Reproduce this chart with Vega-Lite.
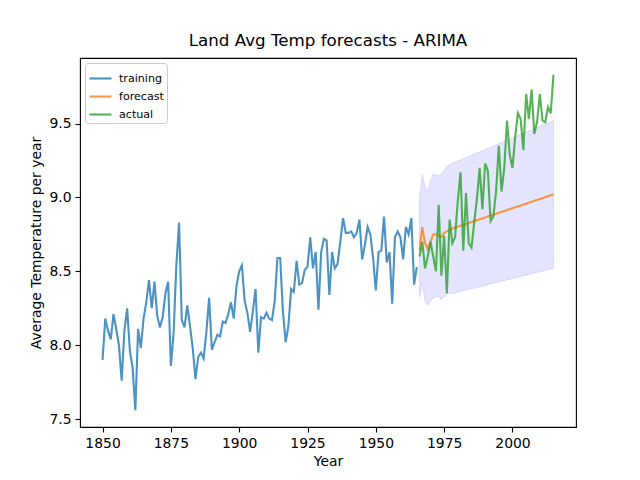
{
  "$schema": "https://vega.github.io/schema/vega-lite/v6.json",
  "width": 496,
  "height": 369,
  "autosize": {"type": "none"},
  "padding": {"left": 80, "top": 58, "right": 64, "bottom": 53},
  "background": "white",
  "config": {
    "font": "DejaVu Sans",
    "view": {"stroke": "black", "strokeWidth": 1.1},
    "axis": {
      "grid": false,
      "domain": false,
      "tickColor": "black",
      "tickSize": 5,
      "tickWidth": 1.1,
      "labelColor": "black",
      "labelFontSize": 13.9,
      "labelFont": "DejaVu Sans",
      "titleFont": "DejaVu Sans",
      "titleFontSize": 13.9,
      "titleFontWeight": "normal",
      "titleColor": "black",
      "labelPadding": 4,
      "titlePadding": 5
    },
    "title": {"fontSize": 16.7, "fontWeight": "normal", "font": "DejaVu Sans", "color": "black", "offset": 8},
    "legend": {
      "orient": "top-left",
      "offset": 5,
      "fillColor": "white",
      "strokeColor": "#cccccc",
      "cornerRadius": 3,
      "padding": 3,
      "labelFont": "DejaVu Sans",
      "labelFontSize": 11.1,
      "labelColor": "black",
      "symbolType": "stroke",
      "symbolSize": 484,
      "symbolStrokeWidth": 2.1,
      "symbolOpacity": 0.8,
      "rowPadding": -7,
      "labelOffset": 6
    }
  },
  "title": {"text": "Land Avg Temp forecasts - ARIMA", "anchor": "middle"},
  "datasets": {
    "lines": [
      {"year": 1850, "series": "training", "value": 7.90},
      {"year": 1851, "series": "training", "value": 8.18},
      {"year": 1852, "series": "training", "value": 8.10},
      {"year": 1853, "series": "training", "value": 8.04},
      {"year": 1854, "series": "training", "value": 8.21},
      {"year": 1855, "series": "training", "value": 8.11},
      {"year": 1856, "series": "training", "value": 8.00},
      {"year": 1857, "series": "training", "value": 7.76},
      {"year": 1858, "series": "training", "value": 8.10},
      {"year": 1859, "series": "training", "value": 8.25},
      {"year": 1860, "series": "training", "value": 7.96},
      {"year": 1861, "series": "training", "value": 7.85},
      {"year": 1862, "series": "training", "value": 7.56},
      {"year": 1863, "series": "training", "value": 8.11},
      {"year": 1864, "series": "training", "value": 7.98},
      {"year": 1865, "series": "training", "value": 8.18},
      {"year": 1866, "series": "training", "value": 8.29},
      {"year": 1867, "series": "training", "value": 8.44},
      {"year": 1868, "series": "training", "value": 8.25},
      {"year": 1869, "series": "training", "value": 8.43},
      {"year": 1870, "series": "training", "value": 8.20},
      {"year": 1871, "series": "training", "value": 8.12},
      {"year": 1872, "series": "training", "value": 8.19},
      {"year": 1873, "series": "training", "value": 8.35},
      {"year": 1874, "series": "training", "value": 8.43},
      {"year": 1875, "series": "training", "value": 7.86},
      {"year": 1876, "series": "training", "value": 8.08},
      {"year": 1877, "series": "training", "value": 8.54},
      {"year": 1878, "series": "training", "value": 8.83},
      {"year": 1879, "series": "training", "value": 8.17},
      {"year": 1880, "series": "training", "value": 8.12},
      {"year": 1881, "series": "training", "value": 8.27},
      {"year": 1882, "series": "training", "value": 8.13},
      {"year": 1883, "series": "training", "value": 7.98},
      {"year": 1884, "series": "training", "value": 7.77},
      {"year": 1885, "series": "training", "value": 7.92},
      {"year": 1886, "series": "training", "value": 7.95},
      {"year": 1887, "series": "training", "value": 7.91},
      {"year": 1888, "series": "training", "value": 8.09},
      {"year": 1889, "series": "training", "value": 8.32},
      {"year": 1890, "series": "training", "value": 7.97},
      {"year": 1891, "series": "training", "value": 8.02},
      {"year": 1892, "series": "training", "value": 8.07},
      {"year": 1893, "series": "training", "value": 8.06},
      {"year": 1894, "series": "training", "value": 8.16},
      {"year": 1895, "series": "training", "value": 8.15},
      {"year": 1896, "series": "training", "value": 8.21},
      {"year": 1897, "series": "training", "value": 8.29},
      {"year": 1898, "series": "training", "value": 8.18},
      {"year": 1899, "series": "training", "value": 8.40},
      {"year": 1900, "series": "training", "value": 8.50},
      {"year": 1901, "series": "training", "value": 8.54},
      {"year": 1902, "series": "training", "value": 8.30},
      {"year": 1903, "series": "training", "value": 8.22},
      {"year": 1904, "series": "training", "value": 8.09},
      {"year": 1905, "series": "training", "value": 8.23},
      {"year": 1906, "series": "training", "value": 8.38},
      {"year": 1907, "series": "training", "value": 7.95},
      {"year": 1908, "series": "training", "value": 8.19},
      {"year": 1909, "series": "training", "value": 8.18},
      {"year": 1910, "series": "training", "value": 8.22},
      {"year": 1911, "series": "training", "value": 8.18},
      {"year": 1912, "series": "training", "value": 8.17},
      {"year": 1913, "series": "training", "value": 8.30},
      {"year": 1914, "series": "training", "value": 8.59},
      {"year": 1915, "series": "training", "value": 8.59},
      {"year": 1916, "series": "training", "value": 8.23},
      {"year": 1917, "series": "training", "value": 8.02},
      {"year": 1918, "series": "training", "value": 8.13},
      {"year": 1919, "series": "training", "value": 8.38},
      {"year": 1920, "series": "training", "value": 8.36},
      {"year": 1921, "series": "training", "value": 8.57},
      {"year": 1922, "series": "training", "value": 8.41},
      {"year": 1923, "series": "training", "value": 8.42},
      {"year": 1924, "series": "training", "value": 8.51},
      {"year": 1925, "series": "training", "value": 8.53},
      {"year": 1926, "series": "training", "value": 8.73},
      {"year": 1927, "series": "training", "value": 8.52},
      {"year": 1928, "series": "training", "value": 8.63},
      {"year": 1929, "series": "training", "value": 8.24},
      {"year": 1930, "series": "training", "value": 8.63},
      {"year": 1931, "series": "training", "value": 8.72},
      {"year": 1932, "series": "training", "value": 8.71},
      {"year": 1933, "series": "training", "value": 8.34},
      {"year": 1934, "series": "training", "value": 8.63},
      {"year": 1935, "series": "training", "value": 8.52},
      {"year": 1936, "series": "training", "value": 8.55},
      {"year": 1937, "series": "training", "value": 8.70},
      {"year": 1938, "series": "training", "value": 8.86},
      {"year": 1939, "series": "training", "value": 8.76},
      {"year": 1940, "series": "training", "value": 8.76},
      {"year": 1941, "series": "training", "value": 8.77},
      {"year": 1942, "series": "training", "value": 8.73},
      {"year": 1943, "series": "training", "value": 8.76},
      {"year": 1944, "series": "training", "value": 8.85},
      {"year": 1945, "series": "training", "value": 8.58},
      {"year": 1946, "series": "training", "value": 8.68},
      {"year": 1947, "series": "training", "value": 8.80},
      {"year": 1948, "series": "training", "value": 8.75},
      {"year": 1949, "series": "training", "value": 8.59},
      {"year": 1950, "series": "training", "value": 8.37},
      {"year": 1951, "series": "training", "value": 8.63},
      {"year": 1952, "series": "training", "value": 8.64},
      {"year": 1953, "series": "training", "value": 8.87},
      {"year": 1954, "series": "training", "value": 8.56},
      {"year": 1955, "series": "training", "value": 8.63},
      {"year": 1956, "series": "training", "value": 8.28},
      {"year": 1957, "series": "training", "value": 8.73},
      {"year": 1958, "series": "training", "value": 8.77},
      {"year": 1959, "series": "training", "value": 8.73},
      {"year": 1960, "series": "training", "value": 8.58},
      {"year": 1961, "series": "training", "value": 8.80},
      {"year": 1962, "series": "training", "value": 8.75},
      {"year": 1963, "series": "training", "value": 8.86},
      {"year": 1964, "series": "training", "value": 8.41},
      {"year": 1965, "series": "training", "value": 8.53},
      {"year": 1966, "series": "forecast", "value": 8.64},
      {"year": 1967, "series": "forecast", "value": 8.80},
      {"year": 1968, "series": "forecast", "value": 8.69},
      {"year": 1969, "series": "forecast", "value": 8.65},
      {"year": 1970, "series": "forecast", "value": 8.70},
      {"year": 1971, "series": "forecast", "value": 8.75},
      {"year": 1972, "series": "forecast", "value": 8.75},
      {"year": 1973, "series": "forecast", "value": 8.74},
      {"year": 1974, "series": "forecast", "value": 8.73},
      {"year": 1975, "series": "forecast", "value": 8.76},
      {"year": 1976, "series": "forecast", "value": 8.77},
      {"year": 1977, "series": "forecast", "value": 8.78},
      {"year": 1978, "series": "forecast", "value": 8.790},
      {"year": 1979, "series": "forecast", "value": 8.796},
      {"year": 1980, "series": "forecast", "value": 8.802},
      {"year": 1981, "series": "forecast", "value": 8.809},
      {"year": 1982, "series": "forecast", "value": 8.815},
      {"year": 1983, "series": "forecast", "value": 8.821},
      {"year": 1984, "series": "forecast", "value": 8.827},
      {"year": 1985, "series": "forecast", "value": 8.834},
      {"year": 1986, "series": "forecast", "value": 8.840},
      {"year": 1987, "series": "forecast", "value": 8.846},
      {"year": 1988, "series": "forecast", "value": 8.852},
      {"year": 1989, "series": "forecast", "value": 8.858},
      {"year": 1990, "series": "forecast", "value": 8.865},
      {"year": 1991, "series": "forecast", "value": 8.871},
      {"year": 1992, "series": "forecast", "value": 8.877},
      {"year": 1993, "series": "forecast", "value": 8.883},
      {"year": 1994, "series": "forecast", "value": 8.890},
      {"year": 1995, "series": "forecast", "value": 8.896},
      {"year": 1996, "series": "forecast", "value": 8.902},
      {"year": 1997, "series": "forecast", "value": 8.908},
      {"year": 1998, "series": "forecast", "value": 8.914},
      {"year": 1999, "series": "forecast", "value": 8.921},
      {"year": 2000, "series": "forecast", "value": 8.927},
      {"year": 2001, "series": "forecast", "value": 8.933},
      {"year": 2002, "series": "forecast", "value": 8.939},
      {"year": 2003, "series": "forecast", "value": 8.946},
      {"year": 2004, "series": "forecast", "value": 8.952},
      {"year": 2005, "series": "forecast", "value": 8.958},
      {"year": 2006, "series": "forecast", "value": 8.964},
      {"year": 2007, "series": "forecast", "value": 8.970},
      {"year": 2008, "series": "forecast", "value": 8.977},
      {"year": 2009, "series": "forecast", "value": 8.983},
      {"year": 2010, "series": "forecast", "value": 8.989},
      {"year": 2011, "series": "forecast", "value": 8.995},
      {"year": 2012, "series": "forecast", "value": 9.002},
      {"year": 2013, "series": "forecast", "value": 9.008},
      {"year": 2014, "series": "forecast", "value": 9.014},
      {"year": 2015, "series": "forecast", "value": 9.020},
      {"year": 1966, "series": "actual", "value": 8.60},
      {"year": 1967, "series": "actual", "value": 8.70},
      {"year": 1968, "series": "actual", "value": 8.52},
      {"year": 1969, "series": "actual", "value": 8.60},
      {"year": 1970, "series": "actual", "value": 8.70},
      {"year": 1971, "series": "actual", "value": 8.60},
      {"year": 1972, "series": "actual", "value": 8.50},
      {"year": 1973, "series": "actual", "value": 8.95},
      {"year": 1974, "series": "actual", "value": 8.47},
      {"year": 1975, "series": "actual", "value": 8.74},
      {"year": 1976, "series": "actual", "value": 8.35},
      {"year": 1977, "series": "actual", "value": 8.85},
      {"year": 1978, "series": "actual", "value": 8.69},
      {"year": 1979, "series": "actual", "value": 8.73},
      {"year": 1980, "series": "actual", "value": 8.98},
      {"year": 1981, "series": "actual", "value": 9.17},
      {"year": 1982, "series": "actual", "value": 8.64},
      {"year": 1983, "series": "actual", "value": 9.03},
      {"year": 1984, "series": "actual", "value": 8.69},
      {"year": 1985, "series": "actual", "value": 8.66},
      {"year": 1986, "series": "actual", "value": 8.83},
      {"year": 1987, "series": "actual", "value": 8.99},
      {"year": 1988, "series": "actual", "value": 9.20},
      {"year": 1989, "series": "actual", "value": 8.92},
      {"year": 1990, "series": "actual", "value": 9.23},
      {"year": 1991, "series": "actual", "value": 9.18},
      {"year": 1992, "series": "actual", "value": 8.84},
      {"year": 1993, "series": "actual", "value": 8.87},
      {"year": 1994, "series": "actual", "value": 9.04},
      {"year": 1995, "series": "actual", "value": 9.35},
      {"year": 1996, "series": "actual", "value": 9.04},
      {"year": 1997, "series": "actual", "value": 9.20},
      {"year": 1998, "series": "actual", "value": 9.52},
      {"year": 1999, "series": "actual", "value": 9.29},
      {"year": 2000, "series": "actual", "value": 9.20},
      {"year": 2001, "series": "actual", "value": 9.41},
      {"year": 2002, "series": "actual", "value": 9.57},
      {"year": 2003, "series": "actual", "value": 9.53},
      {"year": 2004, "series": "actual", "value": 9.32},
      {"year": 2005, "series": "actual", "value": 9.70},
      {"year": 2006, "series": "actual", "value": 9.53},
      {"year": 2007, "series": "actual", "value": 9.73},
      {"year": 2008, "series": "actual", "value": 9.43},
      {"year": 2009, "series": "actual", "value": 9.51},
      {"year": 2010, "series": "actual", "value": 9.70},
      {"year": 2011, "series": "actual", "value": 9.52},
      {"year": 2012, "series": "actual", "value": 9.51},
      {"year": 2013, "series": "actual", "value": 9.61},
      {"year": 2014, "series": "actual", "value": 9.57},
      {"year": 2015, "series": "actual", "value": 9.83}
    ],
    "band": [
      {"year": 1966, "lo": 8.32, "hi": 8.99},
      {"year": 1967, "lo": 8.43, "hi": 9.16},
      {"year": 1968, "lo": 8.30, "hi": 9.07},
      {"year": 1969, "lo": 8.27, "hi": 9.04},
      {"year": 1970, "lo": 8.30, "hi": 9.11},
      {"year": 1971, "lo": 8.32, "hi": 9.16},
      {"year": 1972, "lo": 8.33, "hi": 9.15},
      {"year": 1973, "lo": 8.33, "hi": 9.15},
      {"year": 1974, "lo": 8.31, "hi": 9.16},
      {"year": 1975, "lo": 8.33, "hi": 9.18},
      {"year": 1976, "lo": 8.35, "hi": 9.21},
      {"year": 1977, "lo": 8.35, "hi": 9.22},
      {"year": 1978, "lo": 8.350, "hi": 9.230},
      {"year": 1979, "lo": 8.354, "hi": 9.238},
      {"year": 1980, "lo": 8.359, "hi": 9.245},
      {"year": 1981, "lo": 8.364, "hi": 9.254},
      {"year": 1982, "lo": 8.369, "hi": 9.261},
      {"year": 1983, "lo": 8.373, "hi": 9.269},
      {"year": 1984, "lo": 8.377, "hi": 9.277},
      {"year": 1985, "lo": 8.383, "hi": 9.285},
      {"year": 1986, "lo": 8.387, "hi": 9.293},
      {"year": 1987, "lo": 8.391, "hi": 9.301},
      {"year": 1988, "lo": 8.396, "hi": 9.308},
      {"year": 1989, "lo": 8.400, "hi": 9.316},
      {"year": 1990, "lo": 8.406, "hi": 9.324},
      {"year": 1991, "lo": 8.410, "hi": 9.332},
      {"year": 1992, "lo": 8.414, "hi": 9.340},
      {"year": 1993, "lo": 8.419, "hi": 9.347},
      {"year": 1994, "lo": 8.424, "hi": 9.356},
      {"year": 1995, "lo": 8.428, "hi": 9.364},
      {"year": 1996, "lo": 8.433, "hi": 9.371},
      {"year": 1997, "lo": 8.437, "hi": 9.379},
      {"year": 1998, "lo": 8.442, "hi": 9.386},
      {"year": 1999, "lo": 8.447, "hi": 9.395},
      {"year": 2000, "lo": 8.451, "hi": 9.403},
      {"year": 2001, "lo": 8.456, "hi": 9.410},
      {"year": 2002, "lo": 8.460, "hi": 9.418},
      {"year": 2003, "lo": 8.465, "hi": 9.427},
      {"year": 2004, "lo": 8.470, "hi": 9.434},
      {"year": 2005, "lo": 8.474, "hi": 9.442},
      {"year": 2006, "lo": 8.479, "hi": 9.449},
      {"year": 2007, "lo": 8.483, "hi": 9.457},
      {"year": 2008, "lo": 8.488, "hi": 9.466},
      {"year": 2009, "lo": 8.493, "hi": 9.473},
      {"year": 2010, "lo": 8.497, "hi": 9.481},
      {"year": 2011, "lo": 8.501, "hi": 9.489},
      {"year": 2012, "lo": 8.507, "hi": 9.497},
      {"year": 2013, "lo": 8.511, "hi": 9.505},
      {"year": 2014, "lo": 8.516, "hi": 9.512},
      {"year": 2015, "lo": 8.520, "hi": 9.520}
    ]
  },
  "layer": [
    {
      "data": {"name": "band"},
      "mark": {"type": "area", "fill": "blue", "fillOpacity": 0.1, "stroke": "blue", "strokeOpacity": 0.1, "strokeWidth": 1.1},
      "encoding": {
        "x": {"field": "year", "type": "quantitative", "scale": {"domain": [1841.75, 2023.25], "nice": false, "zero": false},
              "axis": {"values": [1850, 1875, 1900, 1925, 1950, 1975, 2000], "format": "d", "title": "Year"}},
        "y": {"field": "lo", "type": "quantitative", "scale": {"domain": [7.4465, 9.9435], "nice": false, "zero": false},
              "axis": {"values": [7.5, 8.0, 8.5, 9.0, 9.5], "format": ".1f", "title": "Average Temperature per year"}},
        "y2": {"field": "hi"}
      }
    },
    {
      "data": {"name": "lines"},
      "mark": {"type": "line", "strokeWidth": 2.1, "opacity": 0.8},
      "encoding": {
        "x": {"field": "year", "type": "quantitative"},
        "y": {"field": "value", "type": "quantitative"},
        "color": {"field": "series", "type": "nominal",
                  "scale": {"domain": ["training", "forecast", "actual"], "range": ["#1f77b4", "#ff7f0e", "#2ca02c"]},
                  "legend": {"title": null}}
      }
    }
  ]
}
